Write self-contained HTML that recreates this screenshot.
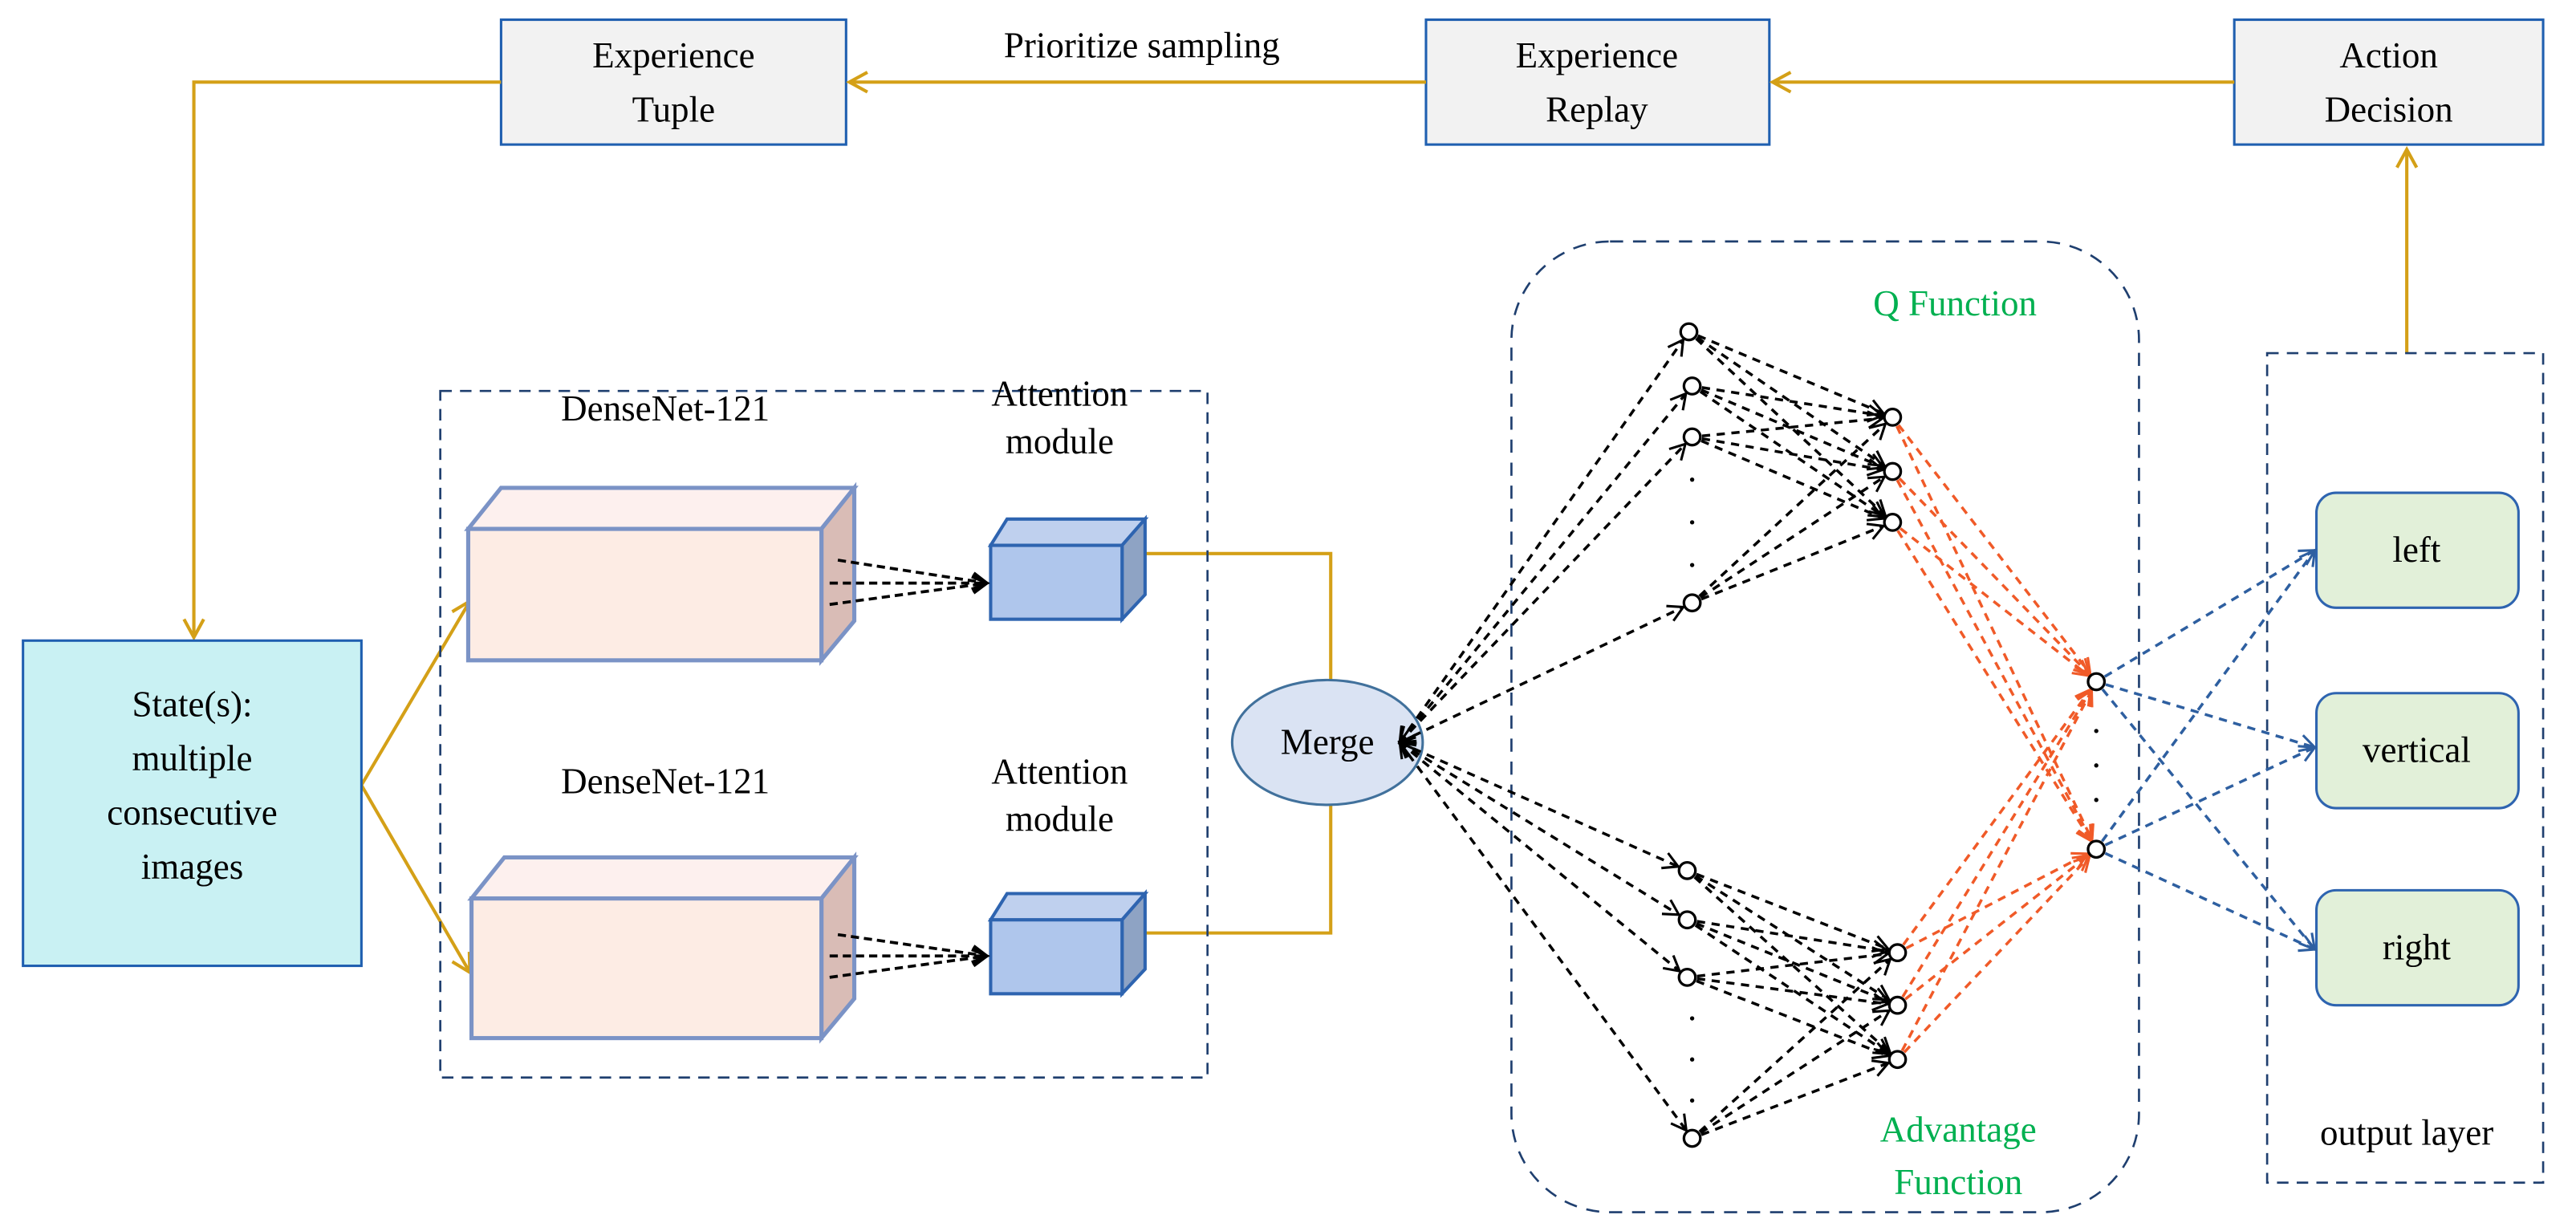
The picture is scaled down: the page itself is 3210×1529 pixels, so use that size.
<!DOCTYPE html>
<html><head><meta charset="utf-8"><style>
html,body{margin:0;padding:0;background:#fff;}
svg{display:block;}
text{font-family:"Liberation Serif",serif;}
</style></head><body>
<svg id="s" width="3210" height="1529" viewBox="0 0 1568 747" preserveAspectRatio="none" xmlns="http://www.w3.org/2000/svg">
<defs>
<marker id="ao" markerWidth="14" markerHeight="14" refX="12" refY="7" orient="auto" markerUnits="userSpaceOnUse"><path d="M1,1 L12,7 L1,13" fill="none" stroke="#d4a017" stroke-width="2"/></marker>
<marker id="ak" markerWidth="12" markerHeight="12" refX="10" refY="6" orient="auto" markerUnits="userSpaceOnUse"><path d="M1,1 L10,6 L1,11" fill="none" stroke="#000" stroke-width="1.5"/></marker>
<marker id="aks" markerWidth="12" markerHeight="12" refX="2" refY="6" orient="auto" markerUnits="userSpaceOnUse"><path d="M11,1 L2,6 L11,11" fill="none" stroke="#000" stroke-width="1.5"/></marker>
<marker id="ar" markerWidth="12" markerHeight="12" refX="10" refY="6" orient="auto" markerUnits="userSpaceOnUse"><path d="M1,1 L10,6 L1,11" fill="none" stroke="#f05a28" stroke-width="1.5"/></marker>
<marker id="ab" markerWidth="12" markerHeight="12" refX="10" refY="6" orient="auto" markerUnits="userSpaceOnUse"><path d="M1,1 L10,6 L1,11" fill="none" stroke="#2e5fa0" stroke-width="1.5"/></marker>
</defs>

<g stroke="#1f5fb0" stroke-width="1.5" fill="#f2f2f2">
<rect x="305" y="12" width="210" height="76"/>
<rect x="868" y="12" width="209" height="76"/>
<rect x="1360" y="12" width="188" height="76"/>
</g>
<g font-size="22" text-anchor="middle" fill="#000">
<text x="410" y="41">Experience</text><text x="410" y="74">Tuple</text>
<text x="972" y="41">Experience</text><text x="972" y="74">Replay</text>
<text x="1454" y="41">Action</text><text x="1454" y="74">Decision</text>
<text x="695" y="35">Prioritize sampling</text>
</g>

<g stroke="#d4a017" stroke-width="2" fill="none">
<line x1="1360" y1="50" x2="1079" y2="50" marker-end="url(#ao)"/>
<line x1="868" y1="50" x2="517" y2="50" marker-end="url(#ao)"/>
<polyline points="305,50 118,50 118,388" marker-end="url(#ao)"/>
<line x1="220" y1="478" x2="286" y2="366" marker-end="url(#ao)"/>
<line x1="220" y1="478" x2="286" y2="592" marker-end="url(#ao)"/>
<polyline points="697,337 810,337 810,414"/>
<polyline points="697,568 810,568 810,490"/>
<line x1="1465" y1="215" x2="1465" y2="91" marker-end="url(#ao)"/>
</g>

<rect x="14" y="390" width="206" height="198" fill="#c9f1f3" stroke="#1f5fb0" stroke-width="1.5"/>
<g font-size="22" text-anchor="middle"><text x="117" y="436">State(s):</text><text x="117" y="469">multiple</text><text x="117" y="502">consecutive</text><text x="117" y="535">images</text></g>

<rect x="268" y="238" width="467" height="418" fill="none" stroke="#1f3f6f" stroke-width="1.3" stroke-dasharray="7,5"/>

<g stroke="#7b93c6" stroke-width="2.5">
<polygon points="285,322 305,297 520,297 500,322" fill="#fdf0ee"/>
<polygon points="500,322 520,297 520,378 500,402" fill="#d9bcb6"/>
<rect x="285" y="322" width="215" height="80" fill="#fdece4"/>
<polygon points="287,547 307,522 520,522 500,547" fill="#fdf0ee"/>
<polygon points="500,547 520,522 520,608 500,632" fill="#d9bcb6"/>
<rect x="287" y="547" width="213" height="85" fill="#fdece4"/>
</g>
<g font-size="22" text-anchor="middle"><text x="405" y="256">DenseNet-121</text><text x="405" y="483">DenseNet-121</text>
<text x="645" y="247">Attention</text><text x="645" y="276">module</text>
<text x="645" y="477">Attention</text><text x="645" y="506">module</text></g>

<g stroke="#2e64b0" stroke-width="2">
<polygon points="603,332 613,316 697,316 683,332" fill="#bfd0ee"/>
<polygon points="683,332 697,316 697,362 683,377" fill="#8ea3c4"/>
<rect x="603" y="332" width="80" height="45" fill="#afc6ec"/>
<polygon points="603,560 613,544 697,544 683,560" fill="#bfd0ee"/>
<polygon points="683,560 697,544 697,590 683,605" fill="#8ea3c4"/>
<rect x="603" y="560" width="80" height="45" fill="#afc6ec"/>
</g>
<g stroke="#000" stroke-width="1.8" stroke-dasharray="5,3" fill="none">
<line x1="510" y1="341" x2="601" y2="355" marker-end="url(#ak)"/>
<line x1="505" y1="355" x2="601" y2="355" marker-end="url(#ak)"/>
<line x1="505" y1="368" x2="601" y2="355" marker-end="url(#ak)"/>
<line x1="510" y1="569" x2="601" y2="582" marker-end="url(#ak)"/>
<line x1="505" y1="582" x2="601" y2="582" marker-end="url(#ak)"/>
<line x1="505" y1="595" x2="601" y2="582" marker-end="url(#ak)"/>
</g>

<ellipse cx="808" cy="452" rx="58" ry="38" fill="#dae3f3" stroke="#41719c" stroke-width="1.5"/>
<text x="808" y="459" font-size="22" text-anchor="middle">Merge</text>

<rect x="920" y="147" width="382" height="591" rx="60" fill="none" stroke="#1f3f6f" stroke-width="1.3" stroke-dasharray="8,6"/>
<text x="1190" y="192" font-size="22" text-anchor="middle" fill="#00b050">Q Function</text>
<text x="1192" y="695" font-size="22" text-anchor="middle" fill="#00b050">Advantage</text>
<text x="1192" y="727" font-size="22" text-anchor="middle" fill="#00b050">Function</text>

<rect x="1380" y="215" width="168" height="505" fill="none" stroke="#1f3f6f" stroke-width="1.3" stroke-dasharray="7,5"/>
<g fill="#e2f0d9" stroke="#2e64b0" stroke-width="1.5">
<rect x="1410" y="300" width="123" height="70" rx="12"/>
<rect x="1410" y="422" width="123" height="70" rx="12"/>
<rect x="1410" y="542" width="123" height="70" rx="12"/>
</g>
<g font-size="22" text-anchor="middle"><text x="1471" y="342">left</text><text x="1471" y="464">vertical</text><text x="1471" y="584">right</text><text x="1465" y="697">output layer</text></g>

<g id="net"></g>
</svg>
<script>
var NS="http://www.w3.org/2000/svg",g=document.getElementById("net");
function ln(a,b,col,mk,st,r1,r2){var dx=b[0]-a[0],dy=b[1]-a[1],L=Math.hypot(dx,dy);var l=document.createElementNS(NS,"line");
l.setAttribute("x1",a[0]+dx/L*r1);l.setAttribute("y1",a[1]+dy/L*r1);l.setAttribute("x2",b[0]-dx/L*r2);l.setAttribute("y2",b[1]-dy/L*r2);
l.setAttribute("stroke",col);l.setAttribute("stroke-width","1.7");l.setAttribute("stroke-dasharray","5,4");
if(mk)l.setAttribute("marker-end","url(#"+mk+")");if(st)l.setAttribute("marker-start","url(#"+st+")");g.appendChild(l);}
var A=[[1028,202],[1030,235],[1030,266],[1030,367]],B=[[1152,254],[1152,287],[1152,318]];
var A2=[[1027,530],[1027,560],[1027,595],[1030,693]],B2=[[1155,580],[1155,612],[1155,645]];
var O=[[1276,415],[1276,517]],T=[[1409,335],[1409,455],[1409,578]];
var M=[852,452];
A.forEach(function(a){ln(M,a,"#000","ak","aks",0,6);B.forEach(function(b){ln(a,b,"#000","ak",null,6,6);});});
A2.forEach(function(a){ln(M,a,"#000","ak","aks",0,6);B2.forEach(function(b){ln(a,b,"#000","ak",null,6,6);});});
B.concat(B2).forEach(function(b){O.forEach(function(o){ln(b,o,"#f05a28","ar",null,6,6);});});
O.forEach(function(o){T.forEach(function(t){ln(o,t,"#2e5fa0","ab",null,6,0);});});
A.concat(A2,B,B2,O).forEach(function(p){var c=document.createElementNS(NS,"circle");c.setAttribute("cx",p[0]);c.setAttribute("cy",p[1]);c.setAttribute("r","5");c.setAttribute("fill","#fff");c.setAttribute("stroke","#000");c.setAttribute("stroke-width","1.6");g.appendChild(c);});
[[1030,292],[1030,318],[1030,344],[1030,620],[1030,645],[1030,670],[1276,445],[1276,466],[1276,487]].forEach(function(p){var c=document.createElementNS(NS,"circle");c.setAttribute("cx",p[0]);c.setAttribute("cy",p[1]);c.setAttribute("r","1.3");c.setAttribute("fill","#000");g.appendChild(c);});
</script>
</body></html>
